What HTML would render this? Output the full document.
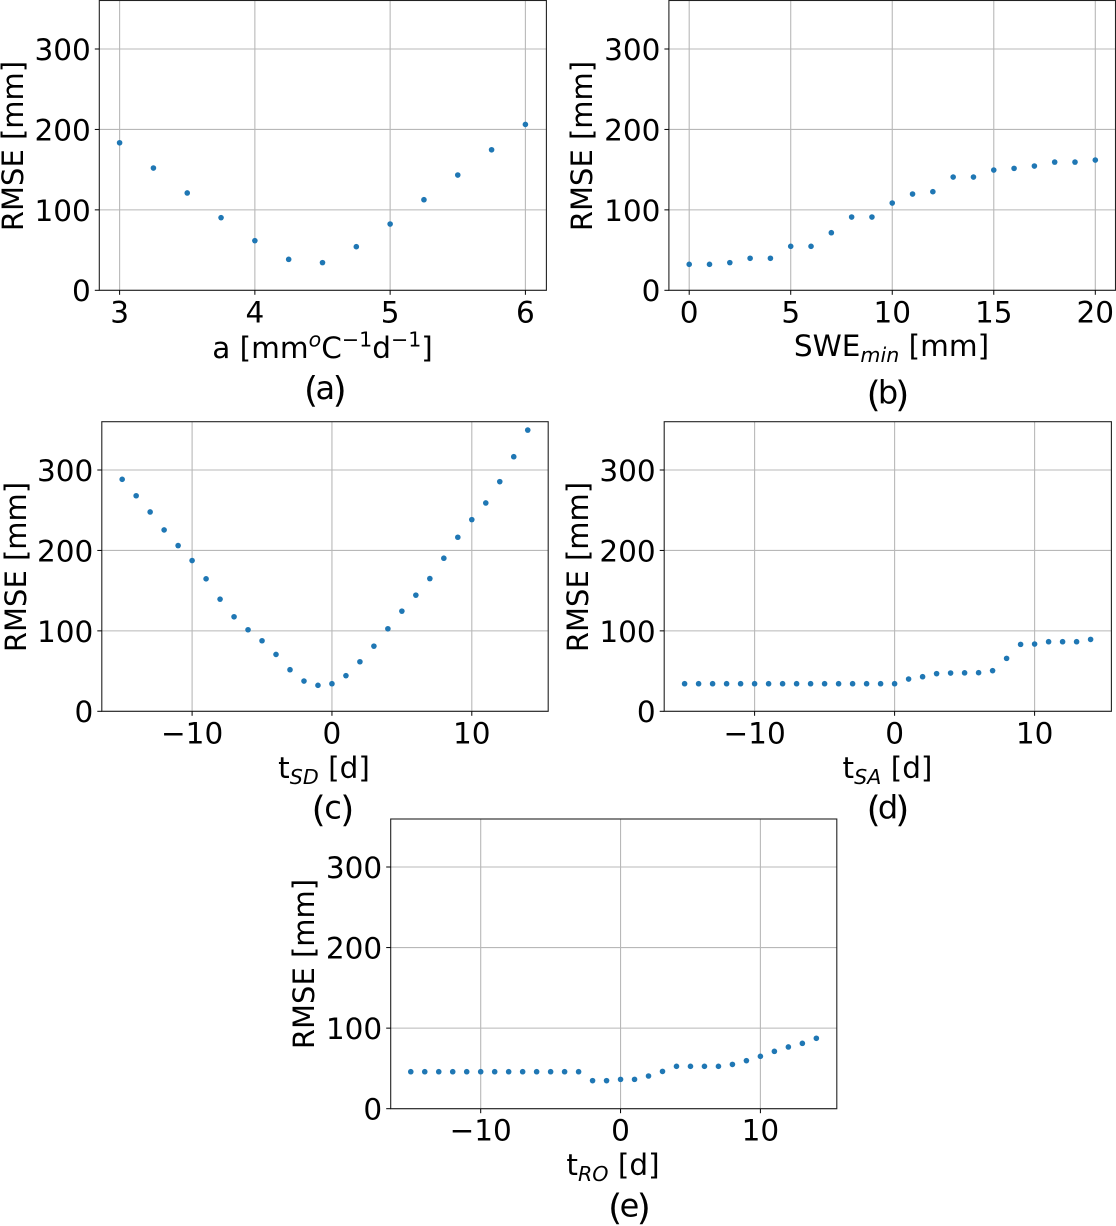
<!DOCTYPE html>
<html>
<head>
<meta charset="utf-8">
<title>RMSE sensitivity panels</title>
<style>
html,body{margin:0;padding:0;background:#fff;width:1116px;height:1226px;overflow:hidden}
svg{display:block}
text{font-family:"DejaVu Sans","Liberation Sans",sans-serif;fill:#000}
</style>
</head>
<body>
<svg id="figure" xmlns="http://www.w3.org/2000/svg" width="1116" height="1226" viewBox="0 0 1116 1226"></svg>
<script>
const yTicks = [0, 100, 200, 300];
const yTickLabels = ['0', '100', '200', '300'];

const aXValues = [3, 3.25, 3.5, 3.75, 4, 4.25, 4.5, 4.75, 5, 5.25, 5.5, 5.75, 6];
const aRmse = [183.4, 152, 121, 90.3, 61.7, 38.5, 34.4, 54.2, 82.4, 112.6, 143.3, 174.7, 206.2];
const aTicks = [3, 4, 5, 6];
const aTickLabels = ['3', '4', '5', '6'];

const bXValues = [0, 1, 2, 3, 4, 5, 6, 7, 8, 9, 10, 11, 12, 13, 14, 15, 16, 17, 18, 19, 20];
const bRmse = [32.3, 32.3, 34.4, 39.8, 39.8, 54.7, 54.7, 71.6, 91.1, 91.1, 108.5, 119.7, 122.6, 140.8, 140.8, 149.5, 151.6, 154.5, 159.4, 159.4, 161.9];
const bTicks = [0, 5, 10, 15, 20];
const bTickLabels = ['0', '5', '10', '15', '20'];

const dayValues = [-15, -14, -13, -12, -11, -10, -9, -8, -7, -6, -5, -4, -3, -2, -1, 0, 1, 2, 3, 4, 5, 6, 7, 8, 9, 10, 11, 12, 13, 14];
const dayTicks = [-10, 0, 10];
const dayTickLabels = ['\u221210', '0', '10'];

const cRmse = [288.4, 268, 247.8, 225.5, 206, 187.4, 164.7, 139.4, 117.5, 101.4, 87.7, 70.7, 51.7, 37.6, 32.3, 34.3, 44.3, 61.6, 81, 102.6, 124.5, 144.4, 165, 190.3, 216.4, 238.3, 259, 285.5, 316.5, 349.6];
const dRmse = [34.3, 34.3, 34.3, 34.3, 34.3, 34.3, 34.3, 34.3, 34.3, 34.3, 34.3, 34.3, 34.3, 34.3, 34.3, 34.3, 40.1, 43, 46.8, 47.6, 47.8, 48, 50.5, 65.8, 83.2, 83.6, 86.5, 86.5, 86.5, 89.4];
const eRmse = [45.9, 45.9, 45.9, 45.9, 45.9, 45.9, 45.9, 45.9, 45.9, 45.9, 45.9, 45.9, 45.9, 34.8, 34.8, 36.4, 36.4, 40.6, 46.3, 52.6, 52.6, 52.6, 52.6, 55, 59.6, 65, 71.2, 76.6, 81.1, 87.4];

const SVG_NS = 'http://www.w3.org/2000/svg';
const figure = document.getElementById('figure');

function make(parent, tag, attrs) {
  const el = document.createElementNS(SVG_NS, tag);
  for (const k in attrs) el.setAttribute(k, attrs[k]);
  parent.appendChild(el);
  return el;
}

function linear(d0, d1, r0, r1) {
  return v => r0 + (v - d0) * (r1 - r0) / (d1 - d0);
}

function drawPanel(p) {
  const xScale = linear(p.domainX[0], p.domainX[1], p.rangeX[0], p.rangeX[1]);
  const yScale = linear(0, 300, p.bottom, p.y300);

  const g = make(figure, 'g', {});
  
  

  const xGrid = make(g, 'g', {});
  
  
  p.xTicks.forEach(t => {
    const line = make(xGrid, 'line', {x1: xScale(t), x2: xScale(t), y1: p.top, y2: p.bottom, stroke: '#b8b8b8', 'stroke-width': 1.1});
    
    
  });

  const yGrid = make(g, 'g', {});
  
  
  yTicks.forEach(t => {
    const line = make(yGrid, 'line', {x1: p.left, x2: p.right, y1: yScale(t), y2: yScale(t), stroke: '#b8b8b8', 'stroke-width': 1.1});
    
    
  });

  const points = make(g, 'g', {});
  
  
  p.xs.forEach((x, i) => {
    const dot = make(points, 'circle', {cx: xScale(x), cy: yScale(p.ys[i]), r: 2.8, fill: '#1f77b4'});
    
    
  });

  const frame = make(g, 'rect', {x: p.left, y: p.top, width: p.right - p.left, height: p.bottom - p.top, fill: 'none', stroke: '#222', 'stroke-width': 1.1});
  
  

  const xAxis = make(g, 'g', {});
  
  
  p.xTicks.forEach((t, i) => {
    const tick = make(xAxis, 'line', {x1: xScale(t), x2: xScale(t), y1: p.bottom, y2: p.bottom + 4.5, stroke: '#000', 'stroke-width': 1});
    
    
    const label = make(xAxis, 'text', {x: xScale(t), y: p.bottom + 32, 'text-anchor': 'middle', 'font-size': 29.5});
    label.textContent = p.xTickLabels[i];
    
    
  });

  const yAxis = make(g, 'g', {});
  
  
  yTicks.forEach((t, i) => {
    const tick = make(yAxis, 'line', {x1: p.left - 4.5, x2: p.left, y1: yScale(t), y2: yScale(t), stroke: '#000', 'stroke-width': 1});
    
    
    const label = make(yAxis, 'text', {x: p.left - 8.5, y: yScale(t) + 10.9, 'text-anchor': 'end', 'font-size': 29.5});
    label.textContent = yTickLabels[i];
    
    
  });

  const yTitle = make(g, 'text', {transform: 'translate(' + p.yTitleX + ' ' + p.yTitleY + ') rotate(-90)', 'text-anchor': 'middle', 'font-size': 29});
  yTitle.textContent = 'RMSE [mm]';
  
  

  const xTitle = make(g, 'text', {x: p.xTitleX, y: p.xTitleY, 'text-anchor': 'middle', 'font-size': 29.5});
  xTitle.innerHTML = p.xTitle;
  
  

  const caption = make(g, 'text', {y: p.capY, 'text-anchor': 'middle', 'font-size': 32});
  caption.innerHTML =
    '<tspan x="' + (p.capX - 14.3) + '" y="' + (p.capY + 3) + '" font-size="36">(</tspan>' +
    '<tspan x="' + p.capX + '" y="' + p.capY + '">' + p.id + '</tspan>' +
    '<tspan x="' + (p.capX + 14.3) + '" y="' + (p.capY + 3) + '" font-size="36">)</tspan>';
  
  
}

function sub(s) {
  return '<tspan dy="6" font-size="20.6" font-style="italic">' + s + '</tspan><tspan dy="-6"> </tspan>';
}
function sup(s, italic) {
  return '<tspan dy="-11.5" font-size="20.6"' + (italic ? ' font-style="italic"' : '') + '>' + s + '</tspan><tspan dy="11.5">\u200b</tspan>';
}

drawPanel({
  id: 'a', xs: aXValues, ys: aRmse, xTicks: aTicks, xTickLabels: aTickLabels,
  domainX: [3, 6], rangeX: [119.6, 525.4], left: 99.3, right: 546.4, top: 0.5, bottom: 290.3, y300: 49,
  yTitleX: 23, yTitleY: 146,
  xTitle: 'a [mm' + sup('o', true) + 'C' + sup('\u22121') + 'd' + sup('\u22121') + ']',
  xTitleX: 322.5, xTitleY: 358, capX: 325.3, capY: 399
});
drawPanel({
  id: 'b', xs: bXValues, ys: bRmse, xTicks: bTicks, xTickLabels: bTickLabels,
  domainX: [0, 20], rangeX: [689.2, 1095.3], left: 668.9, right: 1115.5, top: 0.5, bottom: 290.3, y300: 49,
  yTitleX: 592, yTitleY: 146,
  xTitle: 'SWE' + sub('min') + '[mm]',
  xTitleX: 891.5, xTitleY: 356, capX: 888, capY: 403.5
});
drawPanel({
  id: 'c', xs: dayValues, ys: cRmse, xTicks: dayTicks, xTickLabels: dayTickLabels,
  domainX: [-10, 10], rangeX: [192.1, 471.8], left: 101.8, right: 548.2, top: 421.7, bottom: 711.3, y300: 470,
  yTitleX: 26, yTitleY: 567,
  xTitle: 't' + sub('SD') + '[d]',
  xTitleX: 324, xTitleY: 778, capX: 333, capY: 818.5
});
drawPanel({
  id: 'd', xs: dayValues, ys: dRmse, xTicks: dayTicks, xTickLabels: dayTickLabels,
  domainX: [-10, 10], rangeX: [754.6, 1034.6], left: 664.2, right: 1111.4, top: 421.7, bottom: 711.3, y300: 470,
  yTitleX: 588, yTitleY: 567,
  xTitle: 't' + sub('SA') + '[d]',
  xTitleX: 887.5, xTitleY: 778, capX: 888, capY: 818.5
});
drawPanel({
  id: 'e', xs: dayValues, ys: eRmse, xTicks: dayTicks, xTickLabels: dayTickLabels,
  domainX: [-10, 10], rangeX: [480.7, 760.4], left: 390.7, right: 836.8, top: 819, bottom: 1108.7, y300: 867,
  yTitleX: 314, yTitleY: 964,
  xTitle: 't' + sub('RO') + '[d]',
  xTitleX: 613, xTitleY: 1175, capX: 629.5, capY: 1216.5
});
</script>
</body>
</html>
